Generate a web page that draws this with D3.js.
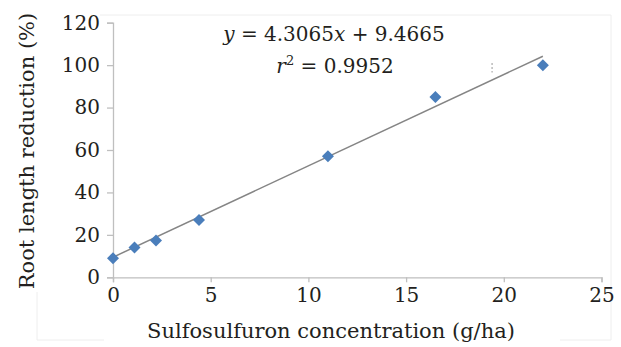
<!DOCTYPE html>
<html>
<head>
<meta charset="utf-8">
<script src="https://cdn.jsdelivr.net/npm/d3@7"></script>
<style>
  body { margin: 0; background: #fff; }
  text { font-family: 'DejaVu Serif', serif; fill: #231f20; }
</style>
</head>
<body>
<svg id="chart" width="621" height="347"></svg>
<script>
//data
var concentration = [0, 1.1, 2.2, 4.4, 11, 16.5, 22];
var reduction = [9, 14, 17.4, 27, 57, 85, 100];
var xTicks = [0, 5, 10, 15, 20, 25];
var yTicks = [0, 20, 40, 60, 80, 100, 120];
var slope = 4.3065, intercept = 9.4665;

var svg = d3.select('#chart');

//faint frame left over from the source image
var frameColor = '#eeeeee';
[[100, 15, 611, 15], [611, 15, 611, 340], [560, 340, 611, 340], [37, 292, 37, 340], [37, 340, 104, 340]].forEach(function(l) {
  svg.append('line')
    .attr('x1', l[0]).attr('y1', l[1]).attr('x2', l[2]).attr('y2', l[3])
    .attr('stroke', frameColor).attr('stroke-width', 1);
});

//scales
var x = d3.scaleLinear().domain([0, 25]).range([113, 601.5]);
var y = d3.scaleLinear().domain([0, 120]).range([277.3, 22.7]);

//axes
var xAxis = svg.append('g')
  .attr('transform', 'translate(0,' + y(0) + ')')
  .call(d3.axisBottom(x).tickValues(xTicks).tickSize(5).tickPadding(6));
var yAxis = svg.append('g')
  .attr('transform', 'translate(' + x(0) + ',0)')
  .call(d3.axisLeft(y).tickValues(yTicks).tickSize(6).tickPadding(7));

[xAxis, yAxis].forEach(function(g) {
  g.select('.domain').attr('stroke', '#bfbfbf').attr('stroke-width', 1.3);
  g.selectAll('.tick line').attr('stroke', '#bfbfbf').attr('stroke-width', 1.3);
  g.selectAll('.tick text')
    .style('font-family', "'DejaVu Serif', serif")
    .style('font-size', '20px')
    .attr('fill', '#231f20');
});

//trend line
svg.append('line')
  .attr('x1', x(0)).attr('y1', y(intercept))
  .attr('x2', x(22)).attr('y2', y(slope * 22 + intercept))
  .attr('stroke', '#858585')
  .attr('stroke-width', 1.5);

//small dashed artifact near the end of the trend line
svg.append('line')
  .attr('x1', x(19.4)).attr('y1', y(101))
  .attr('x2', x(19.4)).attr('y2', y(96.5))
  .attr('stroke', '#999')
  .attr('stroke-width', 1)
  .attr('stroke-dasharray', '2,2');

//markers
svg.selectAll('.point')
  .data(concentration)
  .enter().append('path')
  .attr('class', 'point')
  .attr('d', d3.symbol(d3.symbolSquare, 72))
  .attr('transform', function(d, i) { return 'translate(' + x(d) + ',' + y(reduction[i]) + ') rotate(45)'; })
  .attr('fill', '#4a7ebb');

//equation
var eq = svg.append('text')
  .attr('x', 334).attr('y', 41)
  .attr('text-anchor', 'middle')
  .style('font-size', '20px');
eq.append('tspan').style('font-style', 'italic').text('y');
eq.append('tspan').text(' = 4.3065');
eq.append('tspan').style('font-style', 'italic').text('x');
eq.append('tspan').text(' + 9.4665');

var r2 = svg.append('text')
  .attr('x', 335).attr('y', 73)
  .attr('text-anchor', 'middle')
  .style('font-size', '20px');
r2.append('tspan').style('font-style', 'italic').text('r');
r2.append('tspan').attr('dy', -8).style('font-size', '13px').text('2');
r2.append('tspan').attr('dy', 8).text(' = 0.9952');

//axis titles
svg.append('text')
  .attr('x', 331).attr('y', 338)
  .attr('text-anchor', 'middle')
  .style('font-size', '21px')
  .text('Sulfosulfuron concentration (g/ha)');

svg.append('text')
  .attr('transform', 'translate(34,151) rotate(-90)')
  .attr('text-anchor', 'middle')
  .style('font-size', '21px')
  .text('Root length reduction (%)');
</script>
</body>
</html>
